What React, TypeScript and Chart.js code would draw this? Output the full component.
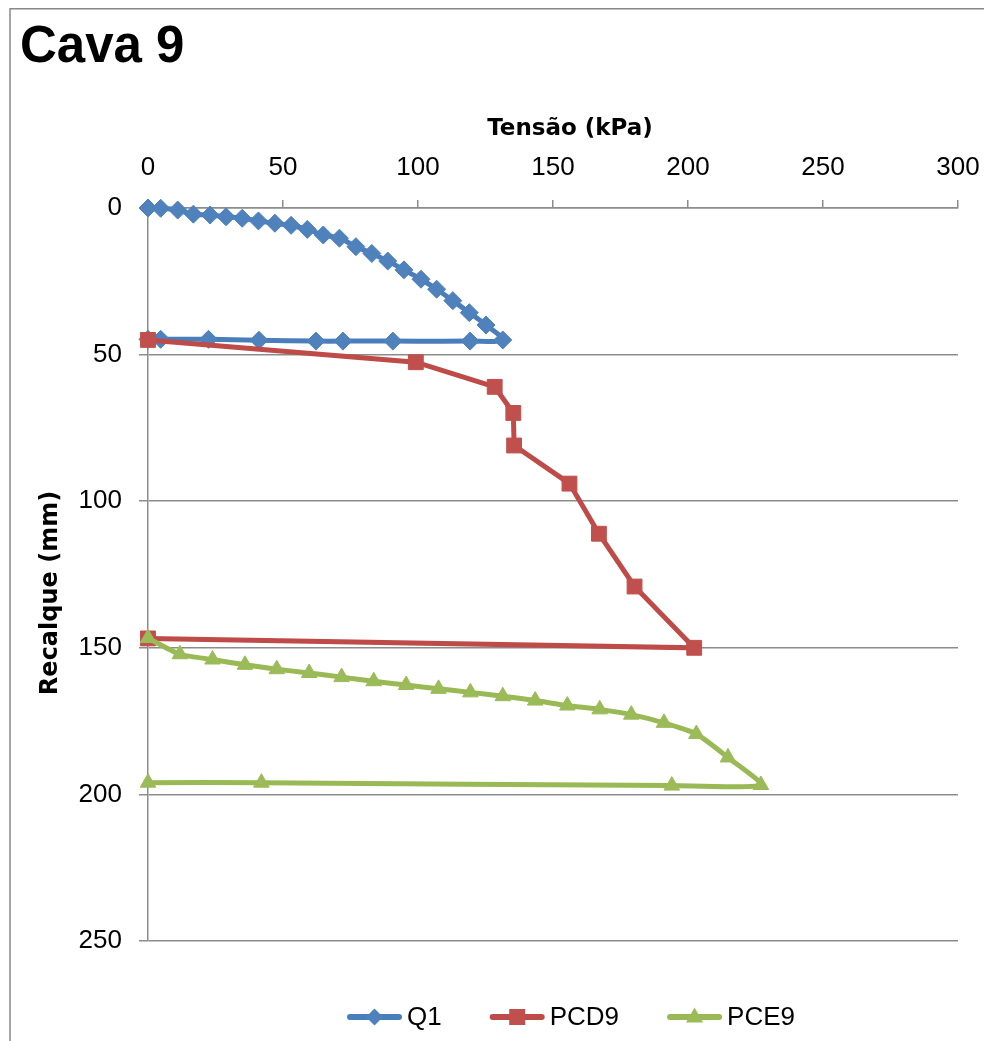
import React, { useEffect, useRef } from "react";
import { Chart, registerables } from "chart.js";

Chart.register(...registerables);

const chartTitle = "Cava 9";
const xAxisTitle = "Tensão (kPa)";
const yAxisTitle = "Recalque (mm)";
const seriesNames = ["Q1", "PCD9", "PCE9"];

const xTicks = [0, 50, 100, 150, 200, 250, 300];
const yTicks = [0, 50, 100, 150, 200, 250];

const q1Tensao = [0, 4.7, 11.0, 16.8, 23.0, 28.9, 34.9, 40.9, 47.0, 53.0, 59.0, 64.9, 70.9, 77.0, 82.9, 88.8, 94.8, 101.1, 106.9, 112.9, 119.0, 125.2, 131.4, 119.3, 90.7, 72.2, 62.2, 41.1, 22.4, 4.7, 0];
const q1Recalque = [0, 0.1, 0.7, 2.1, 2.4, 3.0, 3.5, 4.4, 5.2, 5.9, 7.3, 9.2, 10.3, 13.2, 15.5, 18.1, 21.1, 24.3, 27.7, 31.6, 35.7, 39.9, 45.0, 45.4, 45.4, 45.4, 45.4, 45.1, 44.8, 44.8, 44.8];

const pcd9Tensao = [0, 99.2, 128.4, 135.3, 135.6, 156.1, 167.0, 180.2, 202.3, 0];
const pcd9Recalque = [45.0, 52.6, 61.0, 69.9, 81.0, 94.0, 111.1, 129.1, 150.0, 146.8];

const pce9Tensao = [0, 11.8, 23.9, 35.9, 47.7, 59.7, 71.7, 83.6, 95.6, 107.6, 119.4, 131.4, 143.4, 155.3, 167.3, 179.0, 191.1, 203.1, 214.8, 227.0, 194.0, 42.0, 0];
const pce9Recalque = [146.7, 152.2, 154.0, 155.8, 157.3, 158.6, 160.0, 161.4, 162.7, 164.0, 165.2, 166.5, 168.0, 169.7, 171.0, 172.8, 175.6, 179.4, 187.4, 196.8, 197.0, 196.0, 196.0];

const BLUE = "#4A7EBB";
const BLUE_FILL = "#4F81BD";
const RED = "#BE4B48";
const RED_FILL = "#C0504D";
const GREEN = "#98B954";
const GREEN_FILL = "#9BBB59";
const GRID = "#8c8c8c";

const toPoints = (xs: number[], ys: number[]) => xs.map((x, i) => ({ x, y: ys[i] }));

function drawMarker(ctx: CanvasRenderingContext2D, style: string, x: number, y: number, r: number) {
  ctx.beginPath();
  if (style === "rectRot") {
    ctx.moveTo(x, y - r);
    ctx.lineTo(x + r, y);
    ctx.lineTo(x, y + r);
    ctx.lineTo(x - r, y);
  } else if (style === "rect") {
    ctx.rect(x - r, y - r, 2 * r, 2 * r);
  } else {
    ctx.moveTo(x, y - r * 1.05);
    ctx.lineTo(x + r * 0.95, y + r * 0.6);
    ctx.lineTo(x - r * 0.95, y + r * 0.6);
  }
  ctx.closePath();
  ctx.fill();
}

const decorations = {
  id: "decorations",
  beforeDraw(chart: any) {
    const ctx = chart.ctx as CanvasRenderingContext2D;
    ctx.save();
    ctx.strokeStyle = "#888888";
    ctx.lineWidth = 1.5;
    ctx.strokeRect(2, 0.75, 4000, 4000);
    ctx.restore();
  },
  afterDraw(chart: any) {
    const ctx = chart.ctx as CanvasRenderingContext2D;
    ctx.save();
    ctx.fillStyle = "#000";
    ctx.textBaseline = "alphabetic";
    ctx.textAlign = "left";
    ctx.font = "bold 51px 'Liberation Sans', Arial, sans-serif";
    ctx.fillText(chartTitle, 12, 54);

    ctx.textAlign = "center";
    ctx.font = "bold 23px 'DejaVu Sans', sans-serif";
    ctx.fillText(xAxisTitle, 562, 127);

    ctx.save();
    ctx.translate(49, 585);
    ctx.rotate(-Math.PI / 2);
    ctx.font = "bold 24px 'DejaVu Sans', sans-serif";
    ctx.fillText(yAxisTitle, 0, 0);
    ctx.restore();

    // legend
    const styles = [
      { color: BLUE, fill: BLUE_FILL, marker: "rectRot", r: 8.5 },
      { color: RED, fill: RED_FILL, marker: "rect", r: 8 },
      { color: GREEN, fill: GREEN_FILL, marker: "triangle", r: 9 },
    ];
    ctx.font = "26px 'Liberation Sans', Arial, sans-serif";
    const symW = 55;
    const gap = 5;
    const itemGap = 48;
    const widths = seriesNames.map((n) => ctx.measureText(n).width);
    const total = widths.reduce((a, b) => a + b, 0) + seriesNames.length * (symW + gap) + (seriesNames.length - 1) * itemGap;
    let x = 563 - total / 2;
    const ly = 1009;
    seriesNames.forEach((name, i) => {
      const s = styles[i];
      ctx.strokeStyle = s.color;
      ctx.lineWidth = 6;
      ctx.lineCap = "round";
      ctx.beginPath();
      ctx.moveTo(x + 3, ly);
      ctx.lineTo(x + symW - 3, ly);
      ctx.stroke();
      ctx.fillStyle = s.fill;
      drawMarker(ctx, s.marker, x + symW / 2, ly, s.r);
      ctx.fillStyle = "#000";
      ctx.textAlign = "left";
      ctx.textBaseline = "middle";
      ctx.fillText(name, x + symW + gap, ly + 1);
      x += symW + gap + widths[i] + itemGap;
    });
    ctx.restore();
  },
};

export default function App() {
  const ref = useRef<HTMLCanvasElement | null>(null);

  useEffect(() => {
    if (!ref.current) return;
    const chart = new Chart(ref.current, {
      type: "scatter",
      data: {
        datasets: [
          {
            label: seriesNames[0],
            data: toPoints(q1Tensao, q1Recalque),
            showLine: true,
            borderColor: BLUE,
            backgroundColor: BLUE_FILL,
            borderWidth: 5,
            tension: 0.3,
            pointStyle: "rectRot",
            pointRadius: 9,
            pointBorderWidth: 1,
            pointBorderColor: BLUE_FILL,
            pointBackgroundColor: BLUE_FILL,
            clip: false,
            order: 3,
          },
          {
            label: seriesNames[1],
            data: toPoints(pcd9Tensao, pcd9Recalque),
            showLine: true,
            borderColor: RED,
            backgroundColor: RED_FILL,
            borderWidth: 5,
            tension: 0,
            pointStyle: "rect",
            pointRadius: 10.5,
            pointBorderWidth: 1,
            pointBorderColor: RED_FILL,
            pointBackgroundColor: RED_FILL,
            clip: false,
            order: 2,
          },
          {
            label: seriesNames[2],
            data: toPoints(pce9Tensao, pce9Recalque),
            showLine: true,
            borderColor: GREEN,
            backgroundColor: GREEN_FILL,
            borderWidth: 5,
            tension: 0.2,
            pointStyle: "triangle",
            pointRadius: 9,
            pointBorderWidth: 1,
            pointBorderColor: GREEN_FILL,
            pointBackgroundColor: GREEN_FILL,
            clip: false,
            order: 1,
          },
        ],
      },
      options: {
        responsive: false,
        animation: false,
        devicePixelRatio: 1,
        layout: { padding: { left: 0, top: 0, right: 34, bottom: 100 } },
        plugins: {
          legend: { display: false },
          title: { display: false },
          tooltip: { enabled: false },
        },
        scales: {
          x: {
            type: "linear",
            position: "top",
            min: xTicks[0],
            max: xTicks[xTicks.length - 1],
            afterFit: (s: any) => {
              s.height = 200;
              s.paddingLeft = 0;
              s.paddingRight = 0;
            },
            afterBuildTicks: (s: any) => {
              s.ticks = xTicks.map((v) => ({ value: v }));
            },
            ticks: {
              color: "#000",
              padding: 17,
              font: { family: "'Liberation Sans', Arial, sans-serif", size: 26 },
            },
            grid: {
              display: true,
              drawOnChartArea: false,
              drawTicks: true,
              tickLength: 8,
              color: GRID,
              lineWidth: 1.5,
            },
            border: { display: true, color: GRID, width: 1.5 },
          },
          y: {
            type: "linear",
            position: "left",
            reverse: true,
            min: yTicks[0],
            max: yTicks[yTicks.length - 1],
            afterFit: (s: any) => {
              s.width = 140;
              s.paddingTop = 0;
              s.paddingBottom = 0;
            },
            afterBuildTicks: (s: any) => {
              s.ticks = yTicks.map((v) => ({ value: v }));
            },
            ticks: {
              color: "#000",
              padding: 17,
              font: { family: "'Liberation Sans', Arial, sans-serif", size: 26 },
            },
            grid: {
              display: true,
              drawOnChartArea: true,
              drawTicks: true,
              tickLength: 9,
              color: GRID,
              lineWidth: 1.5,
            },
            border: { display: true, color: GRID, width: 1.5 },
          },
        },
      } as any,
      plugins: [decorations],
    });
    return () => chart.destroy();
  }, []);

  return (
    <div style={{ width: 984, height: 1033 }}>
      <canvas ref={ref} width={984} height={1033} style={{ display: "block", width: 984, height: 1033 }} />
    </div>
  );
}
